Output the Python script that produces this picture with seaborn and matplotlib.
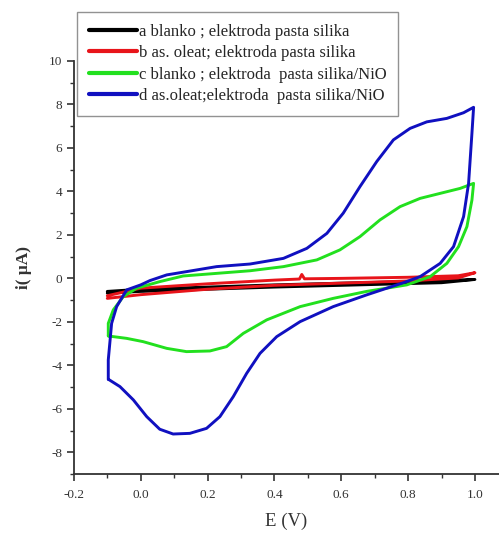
import pandas as pd
import seaborn as sns
import matplotlib.pyplot as plt
from matplotlib.ticker import MultipleLocator

# potential (V) and current (uA), one closed loop each
e_a = [-0.1, 0.0, 0.2, 0.4, 0.6, 0.8, 1.0, 0.9, 0.6, 0.4, 0.2, 0.0, -0.1]
i_a = [-0.6, -0.5, -0.4, -0.3, -0.22, -0.15, -0.05, -0.2, -0.32, -0.4, -0.5, -0.6, -0.68]

e_b = [-0.1, 0.0, 0.2, 0.4, 0.475, 0.482, 0.49, 0.6, 0.8, 0.95, 1.0,
       0.95, 0.8, 0.6, 0.4, 0.2, 0.0, -0.1]
i_b = [-0.8, -0.45, -0.25, -0.08, -0.03, 0.18, -0.02, 0.0, 0.05, 0.12, 0.26,
       0.02, -0.12, -0.22, -0.32, -0.5, -0.75, -0.92]

e_c = [-0.097, -0.097, -0.082, -0.052, -0.012, 0.057, 0.127, 0.227, 0.327, 0.427,
       0.527, 0.596, 0.656, 0.716, 0.776, 0.836, 0.896, 0.956, 0.996,
       0.991, 0.976, 0.951, 0.916, 0.866, 0.796, 0.676, 0.576, 0.477, 0.377,
       0.307, 0.257, 0.207, 0.137, 0.078, 0.007, -0.042, -0.097]
i_c = [-2.65, -2.07, -1.45, -0.84, -0.45, -0.15, 0.11, 0.23, 0.35, 0.54,
       0.85, 1.31, 1.92, 2.69, 3.3, 3.68, 3.91, 4.14, 4.37,
       3.6, 2.38, 1.46, 0.69, 0.08, -0.3, -0.6, -0.92, -1.3, -1.91,
       -2.53, -3.14, -3.34, -3.37, -3.22, -2.91, -2.76, -2.65]

e_d = [-0.097, -0.097, -0.087, -0.072, -0.042, 0.0, 0.028, 0.078, 0.137, 0.227,
       0.327, 0.427, 0.497, 0.557, 0.606, 0.656, 0.706, 0.756, 0.806, 0.856,
       0.916, 0.966, 0.996, 0.991, 0.981, 0.966, 0.936, 0.896, 0.836, 0.786,
       0.676, 0.576, 0.477, 0.407, 0.357, 0.317, 0.277, 0.237, 0.197, 0.147,
       0.097, 0.057, 0.018, -0.022, -0.062, -0.097]
i_d = [-4.64, -3.75, -2.07, -1.3, -0.53, -0.3, -0.1, 0.16, 0.31, 0.54,
       0.66, 0.92, 1.38, 2.07, 3.0, 4.22, 5.37, 6.37, 6.9, 7.2,
       7.36, 7.62, 7.87, 6.67, 4.37, 2.84, 1.46, 0.69, 0.08, -0.2,
       -0.76, -1.3, -1.99, -2.68, -3.45, -4.37, -5.44, -6.36, -6.9, -7.13,
       -7.16, -6.94, -6.36, -5.59, -4.98, -4.64]

labels = ['a blanko ; elektroda pasta silika',
          'b as. oleat; elektroda pasta silika',
          'c blanko ; elektroda  pasta silika/NiO',
          'd as.oleat;elektroda  pasta silika/NiO']
colors = ['#000000', '#e8141a', '#22e01e', '#1010c0']

frames = []
for lab, e, i in zip(labels, [e_a, e_b, e_c, e_d], [i_a, i_b, i_c, i_d]):
    frames.append(pd.DataFrame({'E': e, 'i': i, 'series': lab}))
df = pd.concat(frames, ignore_index=True)

sns.set_style('ticks')
plt.rcParams['font.family'] = ['Liberation Serif', 'DejaVu Serif']
plt.rcParams['axes.unicode_minus'] = False

fig = plt.figure(figsize=(4.99, 5.35), dpi=100)
ax = fig.add_axes([0.148, 0.114, 0.852, 0.772])

sns.lineplot(data=df, x='E', y='i', hue='series', palette=colors,
             sort=False, estimator=None, linewidth=2.1, ax=ax)

ax.xaxis.set_major_locator(MultipleLocator(0.2))
ax.xaxis.set_minor_locator(MultipleLocator(0.1))
ax.yaxis.set_major_locator(MultipleLocator(2))
ax.yaxis.set_minor_locator(MultipleLocator(1))
ax.set_xticks(ax.get_xticks())
ax.set_xticklabels([f'{v:.1f}' for v in ax.get_xticks()])
ax.set_xlim(-0.2, 1.072)
ax.set_ylim(-9, 10)
ax.tick_params(which='major', length=5, width=1.2, colors='#333333',
               labelsize=9.5, labelcolor='#333333')
ax.tick_params(axis='x', which='major', pad=6)
ax.tick_params(which='minor', length=3, width=1.0, colors='#333333')
for s in ['left', 'bottom']:
    ax.spines[s].set_linewidth(1.3)
    ax.spines[s].set_color('#333333')
sns.despine(ax=ax)

ax.set_xlabel('E (V)', fontsize=13.5, color='#333333', labelpad=8)
ax.set_ylabel('i( \u03bcA)', fontsize=12.5, fontweight='bold', color='#333333',
              labelpad=12)

leg = ax.legend(loc='upper left', bbox_to_anchor=(77 / 499, 1 - 12 / 535),
                bbox_transform=fig.transFigure, borderaxespad=0,
                fontsize=12, frameon=True, fancybox=False, handlelength=2.9,
                handletextpad=0.1, labelspacing=0.33, borderpad=0.7,
                title=None)
leg.get_frame().set_edgecolor('#777777')
leg.get_frame().set_linewidth(1.0)
for line in leg.get_lines():
    line.set_linewidth(3.0)

fig.savefig('out.png', dpi=100)
